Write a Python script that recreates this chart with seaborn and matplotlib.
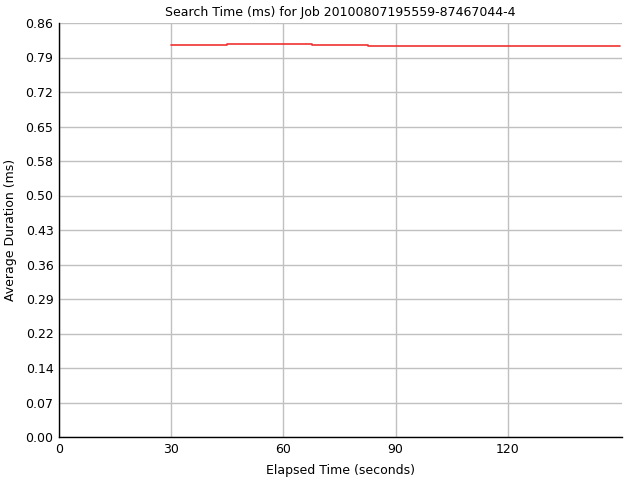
import numpy as np
import pandas as pd
import matplotlib
matplotlib.use('Agg')
import matplotlib.pyplot as plt
import seaborn as sns

# 데이터
elapsed = [30, 45, 67.5, 82.5, 150]
avg_duration = [0.8178, 0.8196, 0.8178, 0.8157, 0.8157]
x_ticks = [0, 30, 60, 90, 120]
y_max = 0.8635

df = pd.DataFrame({'elapsed': elapsed, 'duration': avg_duration})

sns.set_style('white')
plt.rcParams['font.family'] = ['DejaVu Sans']
plt.rcParams['text.color'] = 'black'
plt.rcParams['axes.labelcolor'] = 'black'

fig = plt.figure(figsize=(6.4, 4.8), dpi=100)
ax = fig.add_axes([59 / 640, 1 - 437 / 480, (622 - 59) / 640, (437 - 23) / 480])

sns.lineplot(data=df, x='elapsed', y='duration', ax=ax, color='#f03232',
             linewidth=1.2, drawstyle='steps-post')

y_ticks = np.linspace(0, y_max, 13)
ax.set_xlim(0, 150.5)
ax.set_ylim(0, y_max)
ax.set_xticks(x_ticks)
ax.set_yticks(y_ticks)
ax.set_yticklabels([f'{v:.2f}' for v in y_ticks])
ax.grid(True, color='#c0c0c0', linewidth=1)
ax.set_axisbelow(True)

for s in ['top', 'right']:
    ax.spines[s].set_visible(False)
for s in ['left', 'bottom']:
    ax.spines[s].set_color('black')
    ax.spines[s].set_linewidth(1)

ax.tick_params(axis='both', direction='inout', length=4, width=1,
               colors='black', labelsize=9, pad=2)
ax.set_xlabel('Elapsed Time (seconds)', fontsize=9, labelpad=6, color='black')
ax.set_ylabel('Average Duration (ms)', fontsize=9, labelpad=6, color='black')
ax.set_title('Search Time (ms) for Job 20100807195559-87467044-4', fontsize=9, pad=5,
             color='black')

fig.savefig('out.png', dpi=100)
